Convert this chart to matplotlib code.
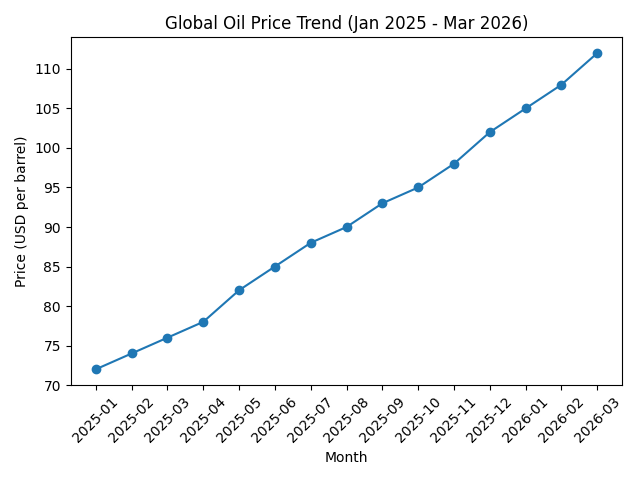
import matplotlib
matplotlib.use('Agg')
import matplotlib.pyplot as plt

months = ['2025-01', '2025-02', '2025-03', '2025-04', '2025-05', '2025-06',
          '2025-07', '2025-08', '2025-09', '2025-10', '2025-11', '2025-12',
          '2026-01', '2026-02', '2026-03']
prices = [72, 74, 76, 78, 82, 85, 88, 90, 93, 95, 98, 102, 105, 108, 112]

fig, ax = plt.subplots(figsize=(6.4, 4.8), dpi=100)
ax.plot(months, prices, marker='o')
ax.set_title('Global Oil Price Trend (Jan 2025 - Mar 2026)')
ax.set_xlabel('Month')
ax.set_ylabel('Price (USD per barrel)')
plt.xticks(rotation=45)
plt.tight_layout()
plt.savefig('out.png', dpi=100)
plt.close()
